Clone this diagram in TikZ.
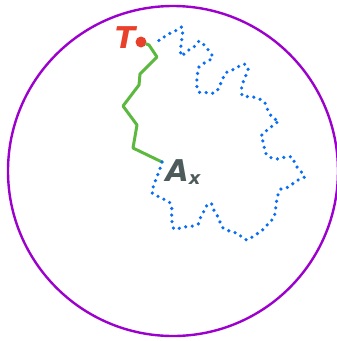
\documentclass[tikz,border=0pt]{standalone}
\usepackage{fontspec}
\newfontfamily\lblfont{DejaVu Sans}
\definecolor{ringc}{HTML}{9B00CC}
\definecolor{redc}{HTML}{E8402A}
\definecolor{greenc}{HTML}{5DB83F}
\definecolor{bluec}{HTML}{0A6EF5}
\definecolor{grayc}{HTML}{4D5B5B}
\tikzset{
  ring/.style={draw=ringc, line width=2.4pt},
  walk/.style={draw=greenc, line width=3pt, line join=round, line cap=round},
  dotwalk/.style={draw=bluec, line width=3.6pt, line cap=round, dash pattern=on 0pt off 6.6pt},
  reddot/.style={circle, fill=redc, minimum size=11pt, inner sep=0pt},
  tlabel/.style={text=redc, font=\lblfont\bfseries\itshape\fontsize{30}{30}\selectfont, inner sep=0pt},
  alabel/.style={text=grayc, font=\lblfont\bfseries\itshape\fontsize{30}{30}\selectfont, inner sep=0pt}
}
\begin{document}
\begin{tikzpicture}[x=1pt,y=-1pt]
\useasboundingbox (0,0) rectangle (337,341);
\draw[ring] (173,171) circle (165);
\node[reddot] (t) at (141,42) {};
\node[tlabel] (tl) at (125,38) {T};
\node[alabel] (al) at (183,172) {A\raisebox{-3pt}{\fontsize{18}{18}\selectfont x}};
\coordinate (ax) at (162,162);
\draw[walk] (t) -- (149,45) -- (157,57) -- (140,74) -- (139,85) -- (123,106) -- (137,125) -- (133,148) -- (ax);
\draw[dotwalk] plot[smooth, tension=0.4] coordinates {
(ax) (159.3,170.7) (156.7,177.3) (154,185) (151.7,192.3) (157.3,196) (164,199.3) (170,202.7)
(171.7,206) (171.7,212.7) (171.7,219.3) (172.7,226) (174.3,229.3) (179.3,228.3) (186,226.7)
(192.7,226) (198.3,224) (200.5,217.7) (204,211) (207.5,204.5) (211.3,203.3) (213.7,209.7)
(217.3,215.7) (220.3,222.7) (223,228) (226,229.3) (230.7,231.7) (237.3,233.3) (242.7,237.7)
(246.7,240) (251.7,237.3) (257.3,233.7) (263.3,229.3) (268,224) (273.7,217.7) (275.3,211)
(276.3,204) (277.3,196.7) (281,189) (287.7,187.3) (293.3,183.3) (299.3,179.3) (304.7,177)
(303.3,174.3) (299.3,169.7) (295,164.3) (293,157.7) (290.7,156.7) (284.3,157.3) (277.3,159)
(269.3,157) (265.3,152.7) (264,145.7) (262.3,139) (261,137.7) (262.7,133.3) (268,129.7)
(273.3,125) (279,120.7) (274,119) (270,114.3) (267,108.3) (264.3,101.7) (259.3,99) (253.3,97)
(246.7,96.5) (242.3,96) (241.7,92.3) (241.7,86) (244,80) (246.7,73.3) (248.3,68.3) (244.3,64)
(240,65.7) (234,69.3) (229.3,71) (225.3,73.3) (222.7,79) (220,85) (216.7,91.5) (212.3,93.3)
(205.7,92.5) (199.5,92.3) (197.3,89.3) (196.7,83) (197.3,75) (199,67) (205,62.5) (210.7,59.5)
(213,57) (209.5,51.7) (205,46) (199.3,41) (194,47) (188,50.5) (184,54) (181,56) (180.7,49.3)
(181.3,42.7) (182.5,35) (182.5,30) (181.7,27) (176,30.5) (170,33.3) (164,37) (160,40.5) (153,39)
};
\end{tikzpicture}
\end{document}
